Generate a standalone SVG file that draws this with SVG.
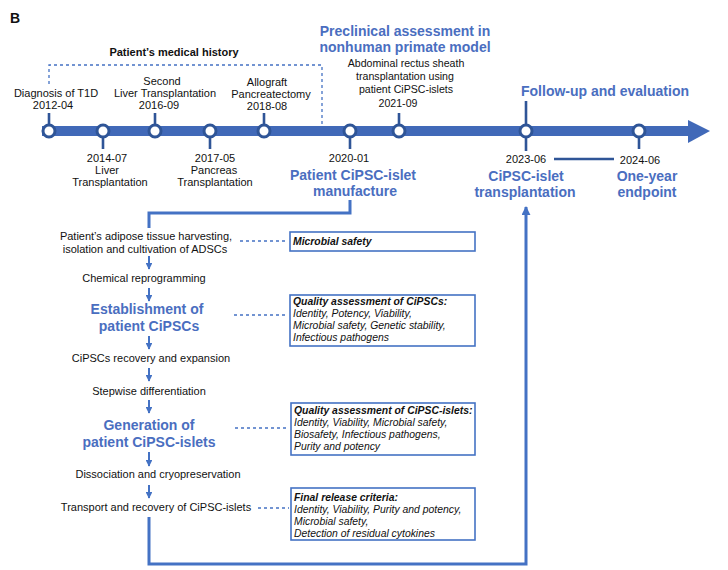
<svg xmlns="http://www.w3.org/2000/svg" width="728" height="570" viewBox="0 0 728 570">
<defs>
<style>
text{font-family:"Liberation Sans",Arial,sans-serif;fill:#111}
.t{font-size:11px;text-anchor:middle}
.s{font-size:10.6px;text-anchor:middle}
.h{font-size:14px;font-weight:bold;fill:#4A6EC0;text-anchor:middle}
.bx{fill:#fff;stroke:#4472C4;stroke-width:1.6}
.bi{font-size:10.4px;font-style:italic}
.bb{font-size:10.4px;font-style:italic;font-weight:bold}
.tick{stroke:#2F5597;stroke-width:2.6;fill:none}
.dot{fill:#fff;stroke:#2F5597;stroke-width:3}
.dash{stroke:#4472C4;stroke-width:1.3;stroke-dasharray:3,3;fill:none}
.flow{stroke:#4472C4;stroke-width:2;fill:none}
.conn{stroke:#4472C4;stroke-width:3;fill:none}
</style>
<marker id="ah" viewBox="0 0 10 10" refX="9" refY="5" markerWidth="3.4" markerHeight="3.4" orient="auto" markerUnits="strokeWidth">
<path d="M0,0 L10,5 L0,10 z" fill="#4472C4"/>
</marker>
<marker id="ah2" viewBox="0 0 10 10" refX="9" refY="5" markerWidth="3" markerHeight="3" orient="auto" markerUnits="strokeWidth">
<path d="M0,0 L10,5 L0,10 z" fill="#4472C4"/>
</marker>
</defs>
<rect width="728" height="570" fill="#fff"/>
<text x="10" y="23" style="font-size:14px;font-weight:bold">B</text>

<g id="timeline">
<rect x="42" y="126" width="648" height="10" fill="#4169B8"/>
<path d="M688,120 L710,131 L688,143 z" fill="#4169B8"/>
</g>

<g id="history">
<text x="174" y="56" style="font-size:11px;font-weight:bold;text-anchor:middle">Patient’s medical history</text>
<path class="dash" d="M49,84 V65 H322 V125"/>
</g>

<g id="connectors">
<line class="tick" x1="49" y1="131" x2="49" y2="113"/>
<line class="tick" x1="103" y1="131" x2="103" y2="149"/>
<line class="tick" x1="155" y1="131" x2="155" y2="113"/>
<line class="tick" x1="210" y1="131" x2="210" y2="149"/>
<line class="tick" x1="264" y1="131" x2="264" y2="113"/>
<line class="tick" x1="350" y1="131" x2="350" y2="149"/>
<line class="tick" x1="399" y1="131" x2="399" y2="113"/>
<line class="tick" x1="526" y1="101" x2="526" y2="151"/>
<line class="tick" x1="639" y1="131" x2="639" y2="149"/>
<line class="tick" x1="554" y1="159" x2="614" y2="159"/>
<path class="conn" d="M350,200 V213 H149 V228"/>
<line class="flow" x1="149" y1="256" x2="149" y2="269" marker-end="url(#ah)"/>
<line class="flow" x1="149" y1="288" x2="149" y2="301" marker-end="url(#ah)"/>
<line class="flow" x1="149" y1="336" x2="149" y2="349" marker-end="url(#ah)"/>
<line class="flow" x1="149" y1="368" x2="149" y2="381" marker-end="url(#ah)"/>
<line class="flow" x1="149" y1="400" x2="149" y2="413" marker-end="url(#ah)"/>
<line class="flow" x1="149" y1="452" x2="149" y2="466" marker-end="url(#ah)"/>
<line class="flow" x1="149" y1="485" x2="149" y2="498" marker-end="url(#ah)"/>
<path class="conn" d="M149,517 V564 H526 V207" marker-end="url(#ah2)"/>
<line class="dash" x1="240" y1="241" x2="288" y2="241"/>
<line class="dash" x1="234" y1="315" x2="288" y2="315"/>
<line class="dash" x1="235" y1="428" x2="289" y2="428"/>
<line class="dash" x1="258" y1="508" x2="289" y2="508"/>
</g>

<g id="n2012">
<circle class="dot" cx="49" cy="131" r="6"/>
<text class="t" x="56" y="97">Diagnosis of T1D</text>
<text class="t" x="53" y="109">2012-04</text>
</g>
<g id="n2014">
<circle class="dot" cx="103" cy="131" r="6"/>
<text class="t" x="107" y="162">2014-07</text>
<text class="t" x="107" y="174">Liver</text>
<text class="t" x="110" y="186">Transplantation</text>
</g>
<g id="n2016">
<circle class="dot" cx="155" cy="131" r="6"/>
<text class="t" x="162" y="85">Second</text>
<text class="t" x="165" y="97">Liver Transplantation</text>
<text class="t" x="159" y="109">2016-09</text>
</g>
<g id="n2017">
<circle class="dot" cx="210" cy="131" r="6"/>
<text class="t" x="215" y="162">2017-05</text>
<text class="t" x="214" y="174">Pancreas</text>
<text class="t" x="215" y="186">Transplantation</text>
</g>
<g id="n2018">
<circle class="dot" cx="264" cy="131" r="6"/>
<text class="t" x="267" y="86">Allograft</text>
<text class="t" x="271" y="98">Pancreatectomy</text>
<text class="t" x="267" y="110">2018-08</text>
</g>
<g id="n2020">
<circle class="dot" cx="350" cy="131" r="6"/>
<text class="t" x="349" y="162">2020-01</text>
<text class="h" x="353" y="180">Patient CiPSC-islet</text>
<text class="h" x="355" y="196">manufacture</text>
</g>
<g id="n2021">
<circle class="dot" cx="399" cy="131" r="6"/>
<text class="h" x="405" y="36">Preclinical assessment in</text>
<text class="h" x="405" y="52">nonhuman primate model</text>
<text class="s" x="406" y="67">Abdominal rectus sheath</text>
<text class="s" x="405" y="80">transplantation using</text>
<text class="s" x="406" y="93">patient CiPSC-islets</text>
<text class="s" x="398" y="107">2021-09</text>
</g>
<g id="followup">
<text class="h" x="605" y="96">Follow-up and evaluation</text>
</g>
<g id="n2023">
<circle class="dot" cx="526" cy="131" r="6"/>
<text class="t" x="526" y="163">2023-06</text>
<text class="h" x="526" y="181">CiPSC-islet</text>
<text class="h" x="525" y="197">transplantation</text>
</g>
<g id="n2024">
<circle class="dot" cx="639" cy="131" r="6"/>
<text class="t" x="640" y="164">2024-06</text>
<text class="h" x="647" y="181">One-year</text>
<text class="h" x="647" y="197">endpoint</text>
</g>

<g id="step1">
<text class="t" x="146" y="240">Patient’s adipose tissue harvesting,</text>
<text class="t" x="145" y="253">isolation and cultivation of ADSCs</text>
</g>
<g id="step2"><text class="t" x="144" y="282">Chemical reprogramming</text></g>
<g id="step3">
<text class="h" x="147" y="314">Establishment of</text>
<text class="h" x="149" y="331">patient CiPSCs</text>
</g>
<g id="step4"><text class="t" x="151" y="362">CiPSCs recovery and expansion</text></g>
<g id="step5"><text class="t" x="149" y="395">Stepwise differentiation</text></g>
<g id="step6">
<text class="h" x="149" y="430">Generation of</text>
<text class="h" x="149" y="447">patient CiPSC-islets</text>
</g>
<g id="step7"><text class="t" x="158" y="478">Dissociation and cryopreservation</text></g>
<g id="step8"><text class="t" x="156" y="511">Transport and recovery of CiPSC-islets</text></g>

<g id="box1">
<rect class="bx" x="290" y="232" width="185" height="19"/>
<text class="bb" x="293" y="245">Microbial safety</text>
</g>
<g id="box2">
<rect class="bx" x="290" y="295" width="185" height="51"/>
<text class="bb" x="293" y="304.5">Quality assessment of CiPSCs:</text>
<text class="bi" x="293" y="316.5">Identity, Potency, Viability,</text>
<text class="bi" x="293" y="328.5">Microbial safety, Genetic stability,</text>
<text class="bi" x="293" y="340.5">Infectious pathogens</text>
</g>
<g id="box3">
<rect class="bx" x="291" y="403" width="184" height="52"/>
<text class="bb" x="294" y="414">Quality assessment of CiPSC-islets:</text>
<text class="bi" x="294" y="426">Identity, Viability, Microbial safety,</text>
<text class="bi" x="294" y="438">Biosafety, Infectious pathogens,</text>
<text class="bi" x="294" y="450">Purity and potency</text>
</g>
<g id="box4">
<rect class="bx" x="291" y="488" width="184" height="52"/>
<text class="bb" x="294" y="501">Final release criteria:</text>
<text class="bi" x="294" y="513">Identity, Viability, Purity and potency,</text>
<text class="bi" x="294" y="525">Microbial safety,</text>
<text class="bi" x="294" y="537">Detection of residual cytokines</text>
</g>
</svg>
